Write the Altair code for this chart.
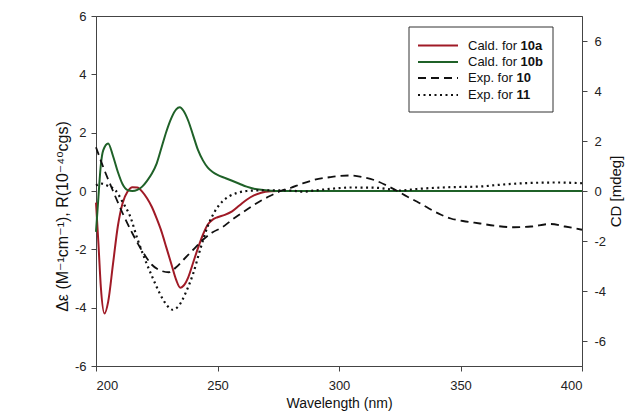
import altair as alt
import pandas as pd

# ---- data ----
wl_10a = [200, 201, 202, 203.5, 205, 207, 209, 211, 213, 215, 217, 219, 221, 223, 225, 227, 229, 231, 233, 234.7,
          236, 238, 240, 242, 244, 246, 248, 250, 253, 256, 259, 262, 265, 268, 272, 275, 300, 350, 400]
val_10a = [-0.4, -1.8, -3.3, -4.2, -3.8, -2.5, -1.2, -0.4, -0.02, 0.13, 0.12, -0.02, -0.25, -0.55, -0.95, -1.4, -1.95,
           -2.5, -3.05, -3.32, -3.25, -2.95, -2.45, -1.95, -1.5, -1.15, -0.98, -0.9, -0.82, -0.7, -0.5, -0.3, -0.15,
           -0.06, -0.01, 0, 0, 0, 0]

wl_10b = [200, 201, 202, 203, 205, 207, 209, 211, 213, 215, 217, 219, 221, 223, 225, 227, 229, 231, 233, 234.5,
          236, 238, 240, 242, 244, 246, 248, 250, 253, 256, 259, 262, 265, 268, 272, 275, 300, 350, 400]
val_10b = [-1.4, -0.2, 0.9, 1.4, 1.63, 1.2, 0.65, 0.22, 0.03, 0.0, 0.04, 0.15, 0.35, 0.6, 0.95, 1.5, 2.05, 2.5, 2.8,
           2.87, 2.75, 2.4, 1.9, 1.4, 1.05, 0.8, 0.65, 0.55, 0.45, 0.35, 0.25, 0.15, 0.08, 0.04, 0.01, 0, 0, 0, 0]

wl_exp10 = [200, 203, 207, 211, 215, 219, 223, 227, 230, 233, 236, 240, 244, 248, 252, 256, 260, 264, 268, 272, 276,
            280, 285, 290, 296, 300, 305, 310, 315, 320, 324, 328, 332, 337, 342, 346, 351, 358, 365, 372, 379, 387,
            393, 400]
cd_exp10 = [1.75, 0.95, 0.0, -0.9, -1.7, -2.4, -2.95, -3.2, -3.25, -3.05, -2.75, -2.35, -1.95, -1.65, -1.45, -1.15,
            -0.88, -0.62, -0.38, -0.18, 0.0, 0.12, 0.3, 0.45, 0.55, 0.6, 0.62, 0.55, 0.42, 0.2, 0.0, -0.22, -0.42,
            -0.7, -0.95, -1.1, -1.2, -1.3, -1.4, -1.45, -1.42, -1.32, -1.42, -1.55]

wl_exp11 = [200, 202, 205, 208, 211, 214, 217, 220, 223, 226, 229, 231.5, 234, 237, 240, 243, 246, 249, 252, 255,
            258, 262, 270, 280, 285, 290, 298, 305, 315, 322, 325, 332, 345, 358, 365, 378, 390, 400]
cd_exp11 = [0.22, 0.3, 0.2, 0.03, -0.45, -1.0, -1.9, -2.7, -3.4, -4.05, -4.55, -4.75, -4.6, -4.05, -3.3, -2.3, -1.4,
            -0.8, -0.42, -0.2, -0.08, 0.0, 0.03, 0.02, -0.03, 0.02, 0.1, 0.14, 0.13, 0.05, 0.02, 0.08, 0.15, 0.18,
            0.24, 0.32, 0.34, 0.31]

x_ticks = [200, 250, 300, 350, 400]
left_ticks = [-6, -4, -2, 0, 2, 4, 6]
right_ticks = [-6, -4, -2, 0, 2, 4, 6]

legend_rows = [
    ("Cald. for", "10a"),
    ("Cald. for", "10b"),
    ("Exp. for", "10"),
    ("Exp. for", "11"),
]

RED = "#a01a26"
GREEN = "#1f6128"
AXIS = "#444444"
FONT = "Liberation Sans"
HYPHEN_LABEL = "datum.value < 0 ? '-' + abs(datum.value) : '' + datum.value"

df_a = pd.DataFrame({"wl": wl_10a, "v": val_10a})
df_b = pd.DataFrame({"wl": wl_10b, "v": val_10b})
df_e10 = pd.DataFrame({"wl": wl_exp10, "v": cd_exp10})
df_e11 = pd.DataFrame({"wl": wl_exp11, "v": cd_exp11})

axis_style = dict(grid=False, domainColor=AXIS, tickColor=AXIS, tickSize=5, labelColor="#222222",
                  labelFont=FONT, labelFontSize=13, titleFont=FONT + ", DejaVu Sans",
                  titleFontWeight="normal", titleColor="#111111")

xenc = alt.X("wl:Q", scale=alt.Scale(domain=[200, 400], nice=False, zero=False),
             axis=alt.Axis(values=x_ticks, title="Wavelength (nm)", format="d", titleFontSize=14,
                           titlePadding=4, labelPadding=8, **axis_style))

left_axis = alt.Axis(values=left_ticks, title="Δε (M⁻¹cm⁻¹), R(10⁻⁴⁰cgs)", orient="left",
                     titleFontSize=16, titlePadding=4, labelPadding=5, titleY=200,
                     labelExpr=HYPHEN_LABEL, **axis_style)
right_axis = alt.Axis(values=right_ticks, title="CD [mdeg]", orient="right", titleFontSize=15,
                      titlePadding=18, labelPadding=7, titleAngle=270,
                      labelExpr=HYPHEN_LABEL, **axis_style)

yl = alt.Y("v:Q", scale=alt.Scale(domain=[-6, 6], nice=False), axis=left_axis)
yr = alt.Y("v:Q", scale=alt.Scale(domain=[-7, 7], nice=False), axis=right_axis)

red = alt.Chart(df_a).mark_line(color=RED, strokeWidth=2, interpolate="monotone").encode(x=xenc, y=yl)
green = alt.Chart(df_b).mark_line(color=GREEN, strokeWidth=2, interpolate="monotone").encode(x=xenc, y=yl)
left = alt.layer(red, green)

dashed = alt.Chart(df_e10).mark_line(color="#111111", strokeWidth=1.8, strokeDash=[8, 5],
                                     interpolate="monotone").encode(x=xenc, y=yr)
dotted = alt.Chart(df_e11).mark_line(color="#111111", strokeWidth=2.2, strokeDash=[2, 3.5],
                                     interpolate="monotone").encode(x=xenc, y=yr)
right = alt.layer(dashed, dotted)

# ---- legend (drawn as marks so the numbers can be bold) ----
one = alt.Data(values=[{"k": 1}])
LX0, LX1, LY0, LY1 = 313, 457, 11, 96
row_y = [29.5, 46, 62, 79]
line_x0, line_x1, text_x = 322, 362, 372
bold_dx = [52.5, 52.5, 48.5, 48.5]
styles = [
    dict(color=RED, strokeWidth=2),
    dict(color=GREEN, strokeWidth=2),
    dict(color="#111111", strokeWidth=1.8, strokeDash=[8, 5]),
    dict(color="#111111", strokeWidth=2.2, strokeDash=[2, 3.5]),
]
leg_layers = [
    alt.Chart(one).mark_rect(fill="white", stroke="#333333", strokeWidth=1).encode(
        x=alt.value(LX0), x2=alt.value(LX1), y=alt.value(LY0), y2=alt.value(LY1))
]
for (plain, bold), yy, st, dx in zip(legend_rows, row_y, styles, bold_dx):
    leg_layers.append(alt.Chart(one).mark_rule(**st).encode(
        x=alt.value(line_x0), x2=alt.value(line_x1), y=alt.value(yy)))
    leg_layers.append(alt.Chart(one).mark_text(align="left", baseline="middle", fontSize=13, font=FONT,
                                               color="#111111").encode(
        x=alt.value(text_x), y=alt.value(yy), text=alt.value(plain)))
    leg_layers.append(alt.Chart(one).mark_text(align="left", baseline="middle", fontSize=13, font=FONT,
                                               fontWeight="bold", color="#111111").encode(
        x=alt.value(text_x + dx), y=alt.value(yy), text=alt.value(bold)))
legend = alt.layer(*leg_layers)

chart = alt.layer(left, right, legend).resolve_scale(y="independent").properties(
    width=486, height=350,
    autosize=alt.AutoSizeParams(type="none"),
    padding={"left": 88, "top": 8, "right": 48, "bottom": 46},
    background="white",
).configure_view(stroke=AXIS, strokeWidth=1)

chart.save("out.html", embed_options={"renderer": "svg", "actions": False})
